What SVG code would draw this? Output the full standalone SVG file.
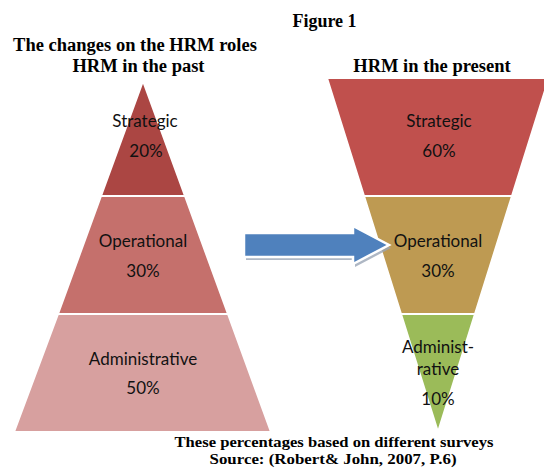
<svg xmlns="http://www.w3.org/2000/svg" width="544" height="472" viewBox="0 0 544 472">
<style>
.title{font-family:"Liberation Serif","Times New Roman",serif;font-weight:bold;fill:#000;text-anchor:middle}
.lbl{font-family:Lato,"Noto Sans",sans-serif;font-size:17px;fill:#111;text-anchor:middle}
.seg{stroke:#fff;stroke-width:2;stroke-linejoin:miter}
</style>
<rect width="544" height="472" fill="#fff"/>
<g id="titles">
<text class="title" x="324.5" y="27" font-size="18">Figure 1</text>
<text class="title" x="135" y="51" font-size="18.5">The changes on the HRM roles</text>
<text class="title" x="138.5" y="72" font-size="18.5">HRM in the past</text>
<text class="title" x="432" y="72" font-size="18.5">HRM in the present</text>
</g>
<g id="past-strategic">
<polygon class="seg" points="143,81 185,196 101,196" fill="#AB4643"/>
<text class="lbl" x="145" y="127">Strategic</text>
<text class="lbl" x="146" y="157">20%</text>
</g>
<g id="past-operational">
<polygon class="seg" points="101,196 185,196 228,314 58,314" fill="#C5706C"/>
<text class="lbl" x="143" y="247">Operational</text>
<text class="lbl" x="143" y="277">30%</text>
</g>
<g id="past-administrative">
<polygon class="seg" points="58,314 228,314 271,432 14,432" fill="#D7A09F"/>
<text class="lbl" x="143" y="365">Administrative</text>
<text class="lbl" x="143" y="394">50%</text>
</g>
<g id="present-strategic">
<polygon class="seg" points="327,78 549,78 512,196 364,196" fill="#C0504D"/>
<text class="lbl" x="439" y="127">Strategic</text>
<text class="lbl" x="439" y="157">60%</text>
</g>
<g id="present-operational">
<polygon class="seg" points="364,196 512,196 475,314 401,314" fill="#BE9A52"/>
<text class="lbl" x="438" y="247">Operational</text>
<text class="lbl" x="438" y="277">30%</text>
</g>
<g id="present-administrative">
<polygon class="seg" points="401,314 475,314 438,432" fill="#9BBB59"/>
<text class="lbl" x="438" y="353">Administ-</text>
<text class="lbl" x="438" y="375">rative</text>
<text class="lbl" x="438" y="405">10%</text>
</g>
<g id="connectors">
<polygon points="246,236 355,236 355,229 391,248 355,267 355,260 246,260" fill="#9AA5B5" opacity="0.8"/>
<polygon points="244,233 353,233 353,226 389,245 353,264 353,257 244,257" fill="#4F81BD" stroke="#fff" stroke-width="2.5"/>
</g>
<g id="footer">
<text class="title" x="334" y="447" font-size="15" textLength="319" lengthAdjust="spacingAndGlyphs">These percentages based on different surveys</text>
<text class="title" x="333" y="464" font-size="15" textLength="247" lengthAdjust="spacingAndGlyphs">Source: (Robert&amp; John, 2007, P.6)</text>
</g>
</svg>
